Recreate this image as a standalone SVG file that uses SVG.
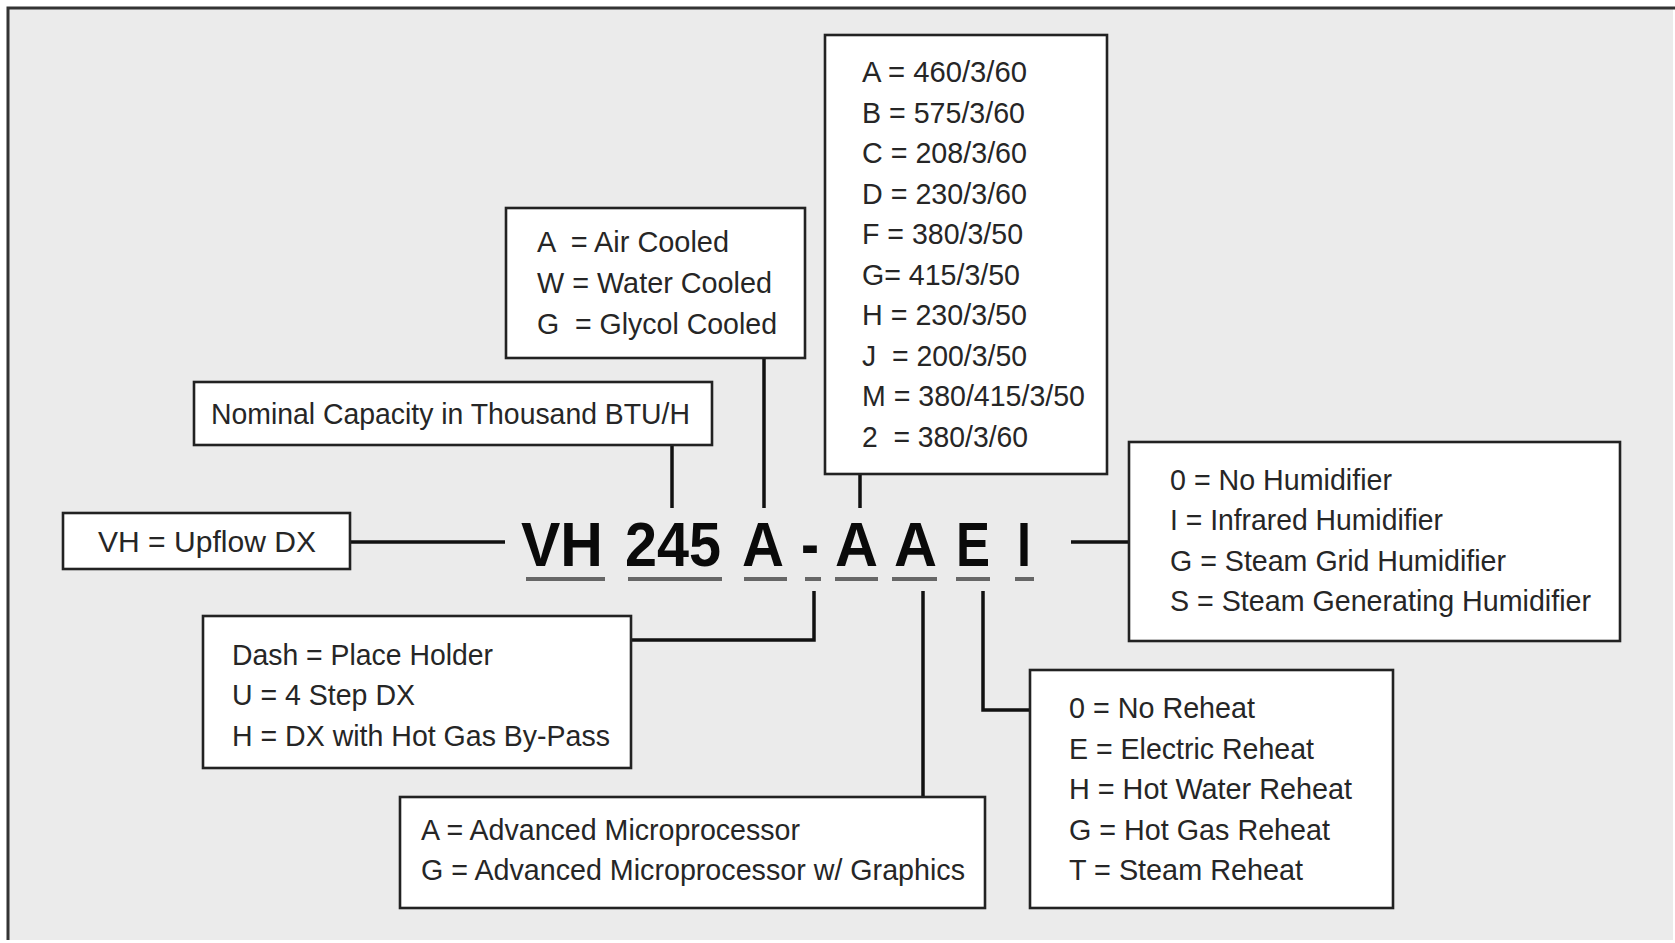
<svg xmlns="http://www.w3.org/2000/svg" width="1675" height="943" viewBox="0 0 1675 943">
<style>
.box{fill:#fff;stroke:#222;stroke-width:2.6}
.t{font-family:"Liberation Sans",Arial,sans-serif;font-size:30px;fill:#262626;white-space:pre}
.big{font-family:"Liberation Sans",Arial,sans-serif;font-size:63px;font-weight:bold;fill:#0a0a0a}
.conn{stroke:#111;stroke-width:3.5;fill:none}
.ul{stroke:#666;stroke-width:4}
</style>
<rect x="0" y="0" width="1675" height="943" fill="#fff"/>
<rect x="8" y="8" width="1665" height="932" fill="#ebebeb"/>
<path d="M8 940 V8 H1675" fill="none" stroke="#333" stroke-width="3"/>

<g id="connectors">
<path class="conn" d="M350 542 H505"/>
<path class="conn" d="M672 446 V508"/>
<path class="conn" d="M764 358 V508"/>
<path class="conn" d="M860 474 V508"/>
<path class="conn" d="M1071 542 H1129"/>
<path class="conn" d="M814 591 V640 H631"/>
<path class="conn" d="M923 591 V797"/>
<path class="conn" d="M983 591 V710 H1030"/>
</g>

<g id="code">
<text class="big" x="521" y="566" textLength="82" lengthAdjust="spacingAndGlyphs">VH</text>
<text class="big" x="625" y="566" textLength="96" lengthAdjust="spacingAndGlyphs">245</text>
<text class="big" x="742" y="566" textLength="42" lengthAdjust="spacingAndGlyphs">A</text>
<text class="big" x="801" y="566" textLength="18" lengthAdjust="spacingAndGlyphs">-</text>
<text class="big" x="835" y="566" textLength="43" lengthAdjust="spacingAndGlyphs">A</text>
<text class="big" x="894" y="566" textLength="43" lengthAdjust="spacingAndGlyphs">A</text>
<text class="big" x="956" y="566" textLength="34" lengthAdjust="spacingAndGlyphs">E</text>
<text class="big" x="1017" y="566" textLength="14" lengthAdjust="spacingAndGlyphs">I</text>
<path class="ul" d="M526 579 H605 M628 579 H722 M744 579 H787 M805 579 H821 M835 579 H878 M892 579 H937 M956 579 H990 M1015 579 H1034"/>
</g>

<g id="voltage">
<rect class="box" x="825" y="35" width="282" height="439"/>
<text class="t" x="862" y="82" textLength="165" lengthAdjust="spacingAndGlyphs">A = 460/3/60</text>
<text class="t" x="862" y="123" textLength="163" lengthAdjust="spacingAndGlyphs">B = 575/3/60</text>
<text class="t" x="862" y="163" textLength="165" lengthAdjust="spacingAndGlyphs">C = 208/3/60</text>
<text class="t" x="862" y="204" textLength="165" lengthAdjust="spacingAndGlyphs">D = 230/3/60</text>
<text class="t" x="862" y="244" textLength="161" lengthAdjust="spacingAndGlyphs">F = 380/3/50</text>
<text class="t" x="862" y="285" textLength="158" lengthAdjust="spacingAndGlyphs">G= 415/3/50</text>
<text class="t" x="862" y="325" textLength="165" lengthAdjust="spacingAndGlyphs">H = 230/3/50</text>
<text class="t" x="862" y="366" textLength="165" lengthAdjust="spacingAndGlyphs">J  = 200/3/50</text>
<text class="t" x="862" y="406" textLength="223" lengthAdjust="spacingAndGlyphs">M = 380/415/3/50</text>
<text class="t" x="862" y="447" textLength="166" lengthAdjust="spacingAndGlyphs">2  = 380/3/60</text>
</g>

<g id="cooling">
<rect class="box" x="506" y="208" width="299" height="150"/>
<text class="t" x="537" y="252" textLength="192" lengthAdjust="spacingAndGlyphs">A  = Air Cooled</text>
<text class="t" x="537" y="293" textLength="235" lengthAdjust="spacingAndGlyphs">W = Water Cooled</text>
<text class="t" x="537" y="334" textLength="240" lengthAdjust="spacingAndGlyphs">G  = Glycol Cooled</text>
</g>

<g id="capacity">
<rect class="box" x="194" y="382" width="518" height="63"/>
<text class="t" x="211" y="424" textLength="479" lengthAdjust="spacingAndGlyphs">Nominal Capacity in Thousand BTU/H</text>
</g>

<g id="model">
<rect class="box" x="63" y="513" width="287" height="56"/>
<text class="t" x="98" y="552" textLength="218" lengthAdjust="spacingAndGlyphs">VH = Upflow DX</text>
</g>

<g id="humidifier">
<rect class="box" x="1129" y="442" width="491" height="199"/>
<text class="t" x="1170" y="490" textLength="222" lengthAdjust="spacingAndGlyphs">0 = No Humidifier</text>
<text class="t" x="1170" y="530" textLength="273" lengthAdjust="spacingAndGlyphs">I = Infrared Humidifier</text>
<text class="t" x="1170" y="571" textLength="336" lengthAdjust="spacingAndGlyphs">G = Steam Grid Humidifier</text>
<text class="t" x="1170" y="611" textLength="421" lengthAdjust="spacingAndGlyphs">S = Steam Generating Humidifier</text>
</g>

<g id="compressor">
<rect class="box" x="203" y="616" width="428" height="152"/>
<text class="t" x="232" y="665" textLength="261" lengthAdjust="spacingAndGlyphs">Dash = Place Holder</text>
<text class="t" x="232" y="705" textLength="183" lengthAdjust="spacingAndGlyphs">U = 4 Step DX</text>
<text class="t" x="232" y="746" textLength="378" lengthAdjust="spacingAndGlyphs">H = DX with Hot Gas By-Pass</text>
</g>

<g id="controls">
<rect class="box" x="400" y="797" width="585" height="111"/>
<text class="t" x="421" y="840" textLength="379" lengthAdjust="spacingAndGlyphs">A = Advanced Microprocessor</text>
<text class="t" x="421" y="880" textLength="544" lengthAdjust="spacingAndGlyphs">G = Advanced Microprocessor w/ Graphics</text>
</g>

<g id="reheat">
<rect class="box" x="1030" y="670" width="363" height="238"/>
<text class="t" x="1069" y="718" textLength="186" lengthAdjust="spacingAndGlyphs">0 = No Reheat</text>
<text class="t" x="1069" y="759" textLength="245" lengthAdjust="spacingAndGlyphs">E = Electric Reheat</text>
<text class="t" x="1069" y="799" textLength="283" lengthAdjust="spacingAndGlyphs">H = Hot Water Reheat</text>
<text class="t" x="1069" y="840" textLength="261" lengthAdjust="spacingAndGlyphs">G = Hot Gas Reheat</text>
<text class="t" x="1069" y="880" textLength="234" lengthAdjust="spacingAndGlyphs">T = Steam Reheat</text>
</g>
</svg>
